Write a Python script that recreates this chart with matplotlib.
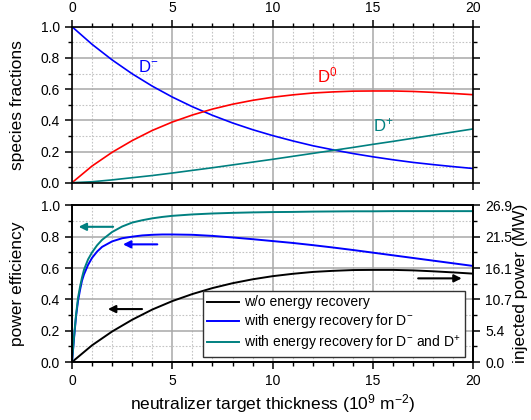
import matplotlib
matplotlib.use("Agg")
import matplotlib.pyplot as plt
import numpy as np
from matplotlib.ticker import MultipleLocator, FixedLocator

plt.rcParams["font.family"] = ["Liberation Sans", "DejaVu Sans"]
plt.rcParams["mathtext.default"] = "regular"

# species fractions vs neutralizer target thickness (10^9 m^-2)
thickness = [0, 1, 2, 3, 4, 5, 6, 7, 8, 9, 10, 11, 12, 13, 14, 15, 16, 17, 18, 19, 20]
d_minus = [1.0, 0.887, 0.787, 0.698, 0.619, 0.549, 0.487, 0.432, 0.383, 0.340, 0.302,
           0.268, 0.237, 0.211, 0.187, 0.166, 0.147, 0.130, 0.116, 0.103, 0.091]
d_zero = [0.0, 0.107, 0.195, 0.270, 0.335, 0.389, 0.434, 0.472, 0.503, 0.528, 0.548,
          0.563, 0.575, 0.582, 0.587, 0.588, 0.588, 0.585, 0.579, 0.572, 0.564]
d_plus = [0.0, 0.006, 0.018, 0.032, 0.046, 0.062, 0.079, 0.096, 0.114, 0.132, 0.150,
          0.169, 0.188, 0.207, 0.226, 0.246, 0.265, 0.285, 0.305, 0.325, 0.345]

# power efficiency
eff_no_recovery = d_zero
thickness_fine = [0, 0.1, 0.2, 0.3, 0.4, 0.5, 0.6, 0.8, 1.0, 1.25, 1.5, 2, 2.5, 3, 3.5,
                  4, 4.5, 5, 6, 7, 8, 9, 10, 11, 12, 13, 14, 15, 16, 17, 18, 19, 20]
eff_recovery_dm = [0.0, 0.15, 0.29, 0.39, 0.46, 0.52, 0.56, 0.62, 0.665, 0.705, 0.735,
                   0.77, 0.79, 0.80, 0.808, 0.812, 0.814, 0.814, 0.812, 0.805, 0.795,
                   0.784, 0.772, 0.76, 0.746, 0.731, 0.715, 0.698, 0.681, 0.664, 0.647,
                   0.63, 0.613]
eff_recovery_dm_dp = [0.0, 0.16, 0.30, 0.41, 0.48, 0.54, 0.59, 0.655, 0.70, 0.745, 0.78,
                      0.83, 0.865, 0.89, 0.905, 0.917, 0.926, 0.933, 0.942, 0.948, 0.952,
                      0.955, 0.957, 0.958, 0.96, 0.961, 0.962, 0.962, 0.963, 0.963, 0.963,
                      0.963, 0.963]
max_power = 26.85  # MW at efficiency 1.0

BLUE = "#0000ff"
RED = "#ff0000"
TEAL = "#008080"


def style_axes(ax):
    ax.set_xlim(0, 20)
    ax.set_ylim(0, 1.0)
    ax.xaxis.set_major_locator(MultipleLocator(5))
    ax.xaxis.set_minor_locator(MultipleLocator(1))
    ax.yaxis.set_major_locator(MultipleLocator(0.2))
    ax.yaxis.set_minor_locator(MultipleLocator(0.1))
    ax.yaxis.set_major_formatter(matplotlib.ticker.FormatStrFormatter("%.1f"))
    ax.grid(which="major", color="#a8a8a8", linewidth=1.1, linestyle="-")
    ax.grid(which="minor", color="#c4c4c4", linewidth=0.8, linestyle=(0, (1.5, 1.5)))
    ax.set_axisbelow(True)
    for sp in ax.spines.values():
        sp.set_linewidth(1.2)
    ax.tick_params(which="major", direction="out", length=5, width=1.1, labelsize=10)
    ax.tick_params(which="minor", direction="out", length=3, width=1.0)


fig = plt.figure(figsize=(5.31, 4.2), dpi=100)
ax1 = fig.add_axes([0.1356, 0.565, 0.7558, 0.3714])
ax2 = fig.add_axes([0.1356, 0.138, 0.7558, 0.3731])

# top panel: species fractions
style_axes(ax1)
ax1.plot(thickness, d_minus, color=BLUE, lw=1.2)
ax1.plot(thickness, d_zero, color=RED, lw=1.2)
ax1.plot(thickness, d_plus, color=TEAL, lw=1.2)
ax1.tick_params(axis="x", which="both", top=True, bottom=True, labeltop=True, labelbottom=False)
ax1.tick_params(axis="y", which="both", left=True, right=True)
ax1.set_ylabel("species fractions", fontsize=12.5)
ax1.yaxis.set_label_coords(-0.116, 0.5)
ax1.text(3.3, 0.74, "D$^{-}$", color=BLUE, fontsize=12, va="center")
ax1.text(12.2, 0.69, "D$^{0}$", color=RED, fontsize=12, va="center")
ax1.text(15.0, 0.37, "D$^{+}$", color=TEAL, fontsize=12, va="center")

# bottom panel: power efficiency
style_axes(ax2)
l1, = ax2.plot(thickness, eff_no_recovery, color="black", lw=1.4,
               label="w/o energy recovery")
l2, = ax2.plot(thickness_fine, eff_recovery_dm, color=BLUE, lw=1.4,
               label="with energy recovery for D$^{-}$")
l3, = ax2.plot(thickness_fine, eff_recovery_dm_dp, color=TEAL, lw=1.4,
               label="with energy recovery for D$^{-}$ and D$^{+}$")
ax2.tick_params(axis="x", which="both", top=False, bottom=True)
ax2.tick_params(axis="y", which="both", left=True, right=False)
ax2.set_ylabel("power efficiency", fontsize=12.5)
ax2.yaxis.set_label_coords(-0.116, 0.5)
ax2.set_xlabel("neutralizer target thickness (10$^{9}$ m$^{-2}$)", fontsize=12.5)
ax2.xaxis.set_label_coords(0.5, -0.19)

axr = ax2.twinx()
axr.set_ylim(0, max_power)
power_ticks = [v * max_power for v in [0, 0.2, 0.4, 0.6, 0.8, 1.0]]
axr.yaxis.set_major_locator(FixedLocator(power_ticks))
axr.yaxis.set_minor_locator(FixedLocator([v * max_power for v in [0.1, 0.3, 0.5, 0.7, 0.9]]))
axr.set_yticklabels([f"{v:.1f}" for v in power_ticks])
axr.tick_params(which="major", direction="out", length=5, width=1.1, labelsize=10)
axr.tick_params(which="minor", direction="out", length=3, width=1.0)
for sp in axr.spines.values():
    sp.set_linewidth(1.2)
axr.set_ylabel("injected power (MW)", fontsize=12.5)
axr.yaxis.set_label_coords(1.099, 0.5)

arrow = dict(arrowstyle="-|>", lw=1.5, mutation_scale=11, shrinkA=0, shrinkB=0)
ax2.annotate("", xy=(0.33, 0.863), xytext=(2.05, 0.863),
             arrowprops=dict(arrow, color=TEAL))
ax2.annotate("", xy=(2.54, 0.751), xytext=(4.25, 0.751),
             arrowprops=dict(arrow, color=BLUE))
ax2.annotate("", xy=(1.79, 0.338), xytext=(3.49, 0.338),
             arrowprops=dict(arrow, color="black"))
ax2.annotate("", xy=(19.42, 0.534), xytext=(17.25, 0.534),
             arrowprops=dict(arrow, color="black"))

leg = ax2.legend(handles=[l1, l2, l3], loc="lower right", bbox_to_anchor=(0.979, 0.034),
                 fontsize=10, frameon=True, fancybox=False, framealpha=1,
                 edgecolor="#333333", borderpad=0.3, labelspacing=0.22,
                 handlelength=2.3, handletextpad=0.35, borderaxespad=0)
leg.get_frame().set_linewidth(1.0)
leg.set_zorder(5)

fig.savefig("out.png", dpi=100)
